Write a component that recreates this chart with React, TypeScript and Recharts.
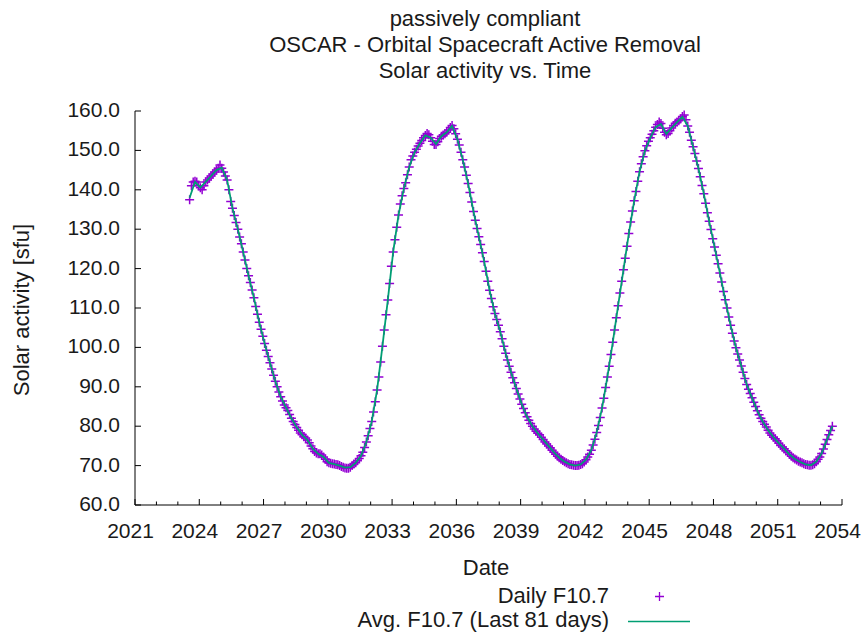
import React from 'react';
import { ComposedChart, Line, Scatter, XAxis, YAxis, Customized } from 'recharts';

// ---- data ----
const TITLE_LINES = ['passively compliant', 'OSCAR - Orbital Spacecraft Active Removal', 'Solar activity vs. Time'];
const X_LABEL = 'Date';
const Y_LABEL = 'Solar activity [sfu]';
const LEGEND_DAILY = 'Daily F10.7';
const LEGEND_AVG = 'Avg. F10.7 (Last 81 days)';

const X_DOMAIN = [2021, 2054];
const X_MAJOR_TICKS = [2021, 2024, 2027, 2030, 2033, 2036, 2039, 2042, 2045, 2048, 2051, 2054];
const X_ALL_TICKS = [2021, 2022, 2023, 2024, 2025, 2026, 2027, 2028, 2029, 2030, 2031, 2032, 2033, 2034, 2035, 2036, 2037, 2038, 2039, 2040, 2041, 2042, 2043, 2044, 2045, 2046, 2047, 2048, 2049, 2050, 2051, 2052, 2053, 2054];
const Y_DOMAIN = [60, 160];
const Y_TICKS = [60, 70, 80, 90, 100, 110, 120, 130, 140, 150, 160];

// daily F10.7 (sampled monthly, starting mid-2023)
const DAILY_START = 2023.55;
const DAILY_STEP = 1 / 12;
const DAILY_2023_2028 = [
  137.5, 141, 142, 142.2, 142, 141, 140.5, 140, 141, 142, 142.5, 143,
  143.5, 144, 144.5, 145, 145.5, 146.3, 145.5, 144.5, 143.5, 142.5, 140, 137,
  135.3, 133.5, 131.7, 130, 128, 126.3, 124.2, 122.2, 120, 118.2, 116.5, 114.6,
  112.6, 110.4, 108.4, 106.4, 104.6, 102.8, 101, 99.3, 97.7, 96.1, 94.5, 92.9,
  91.4, 90, 88.7, 87.5, 86.4, 85.4, 84.7, 84, 83, 82, 81.2, 80.4,
];
const DAILY_2028_2033 = [
  79.7, 79, 78.3, 77.8, 77.3, 77, 76.5, 75.8, 75, 74.3, 73.6, 73.2,
  73, 73, 72.7, 72.2, 71.6, 71, 70.7, 70.6, 70.5, 70.4, 70.3, 70.2,
  70, 69.8, 69.6, 69.4, 69.3, 69.3, 69.6, 70, 70.4, 70.7, 71.2, 71.8,
  72.5, 73.4, 74.6, 76, 77.6, 79.4, 81.2, 83.6, 86.2, 89.2, 92.5, 96.3,
  100.3, 104.4, 108.3, 112, 116.2, 120.6, 124.2, 127.3, 130.5, 133.6, 136.4, 138.5,
];
const DAILY_2033_2038 = [
  140.3, 141.8, 143.8, 145.8, 147.6, 148.6, 149.5, 150.3, 151.1, 151.8, 152.5, 153.2,
  153.8, 154.3, 154, 153.2, 152.3, 151.5, 151.5, 152.2, 153, 153.6, 153.9, 154.2,
  154.6, 155.2, 155.8, 156.3, 155.5, 154.2, 152.8, 151.4, 149.5, 147.6, 145.8, 143.7,
  141.6, 139.3, 136.9, 134.5, 132.3, 130.2, 128.1, 126.1, 124, 121.8, 119.3, 116.8,
  114.5, 112.4, 110.3, 108.6, 107.1, 105.6, 104, 102.2, 100.3, 98.5, 96.8, 95.2,
];
const DAILY_2038_2043 = [
  93.7, 92.3, 91, 89.6, 88.2, 86.9, 85.6, 84.5, 83.4, 82.4, 81.5, 80.7,
  80, 79.3, 78.7, 78.2, 77.8, 77.2, 76.6, 76, 75.5, 75, 74.5, 73.9,
  73.4, 72.9, 72.4, 72, 71.6, 71.3, 71, 70.7, 70.5, 70.3, 70.2, 70.1,
  70, 70, 70.1, 70.3, 70.5, 70.9, 71.5, 72.2, 72.9, 73.9, 75.2, 76.7,
  78.4, 80.2, 82.2, 84.6, 87.1, 89.8, 92.5, 95.2, 98.2, 101.3, 104.4, 107.5,
];
const DAILY_2043_2048 = [
  110.6, 113.8, 116.8, 119.7, 122.6, 125.7, 128.9, 131.8, 134.6, 137.2, 139.6, 142.2,
  144.6, 146.6, 148.4, 149.9, 151.2, 152.3, 153.2, 154.1, 155, 155.9, 156.6, 157.2,
  156.8, 155.6, 154.6, 154, 154.3, 155, 155.7, 156.3, 156.9, 157.2, 157.5, 158,
  158.6, 159, 157.8, 156.2, 154.6, 152.6, 150.9, 149.2, 147.3, 145.4, 143.3, 141.1,
  139, 136.6, 134.2, 132, 129.9, 127.6, 125.5, 123.4, 121.2, 118.9, 116.6, 114.2,
];
const DAILY_2048_2053 = [
  112.1, 110, 107.7, 105.6, 103.6, 101.6, 99.9, 98.3, 96.8, 95.3, 93.7, 92.1,
  90.6, 89.4, 88.3, 87.2, 86.1, 85, 83.9, 82.9, 82, 81.2, 80.5, 79.8,
  79, 78.3, 77.7, 77.2, 76.8, 76.3, 75.7, 75.1, 74.7, 74.3, 73.8, 73.3,
  72.8, 72.4, 72, 71.7, 71.4, 71.1, 70.9, 70.7, 70.5, 70.3, 70.2, 70.1,
  70.1, 70.2, 70.5, 71, 71.6, 72.2, 73.1, 74.2, 75.4, 76.6, 77.8, 78.9, 80,
];

// 81-day average (sampled quarterly)
const AVG_START = 2023.55;
const AVG_STEP = 0.25;
const AVG_2023_2033 = [
  138, 142, 140.6, 142, 143.5, 145, 145.6, 142.5, 135.3, 130, 124.2, 118.2, 112.6, 106.4, 101, 96.1, 91.4, 87.5, 84.7, 82,
  79.7, 77.8, 76.5, 74.3, 73, 72.2, 70.7, 70.4, 70, 69.5, 69.6, 70.7, 72.5, 76, 81.2, 89.2, 100.3, 112, 124.2, 133.6,
];
const AVG_2033_2043 = [
  140.3, 145.8, 149.5, 151.8, 153.8, 153.2, 151.6, 153.6, 154.6, 156.2, 152.8, 147.6, 141.6, 134.5, 128.1, 121.8, 114.5, 108.6, 104, 98.5,
  93.7, 89.6, 85.6, 82.4, 80, 78.2, 76.6, 75, 73.4, 72, 71, 70.3, 70, 70.3, 71.5, 73.9, 78.4, 84.6, 92.5, 101.3,
];
const AVG_2043_2053 = [
  110.6, 119.7, 128.9, 137.2, 144.6, 149.9, 153.2, 155.9, 156.7, 154.2, 155.7, 157.2, 158.5, 156.2, 150.9, 145.4, 139, 132, 125.5, 118.9,
  112.1, 105.6, 99.9, 95.3, 90.6, 87.2, 83.9, 81.2, 79, 77.2, 75.7, 74.3, 72.8, 71.7, 70.9, 70.3, 70.1, 71, 73.1, 76.6, 80,
];

const dailyValues = [...DAILY_2023_2028, ...DAILY_2028_2033, ...DAILY_2033_2038, ...DAILY_2038_2043, ...DAILY_2043_2048, ...DAILY_2048_2053];
const avgValues = [...AVG_2023_2033, ...AVG_2033_2043, ...AVG_2043_2053];
const dailyData = dailyValues.map((v, i) => ({ t: DAILY_START + i * DAILY_STEP, v }));
const avgData = avgValues.map((v, i) => ({ t: AVG_START + i * AVG_STEP, v }));

// ---- styles ----
const FONT = "'Liberation Sans', Arial, Helvetica, sans-serif";
const FS_TICK = 21;
const FS_TEXT = 22;
const TEXT = '#1a1a1a';
const PURPLE = '#9400d3';
const TEAL = '#009e73';
const W = 863;
const H = 633;
const MARGIN = { top: 111, right: 21, bottom: 68, left: 75 };

const BottomTick = (props: any) => {
  const { x, y, payload } = props;
  const major = X_MAJOR_TICKS.includes(payload.value);
  return (
    <g>
      <line x1={x} y1={y} x2={x} y2={y - (major ? 6 : 3.5)} stroke="#000" strokeWidth={1} />
      {major && (
        <text x={x - 4.5} y={y + 33} textAnchor="middle" fontSize={FS_TICK} fontFamily={FONT} fill={TEXT}>
          {payload.value}
        </text>
      )}
    </g>
  );
};

const TopTick = (props: any) => {
  const { x, y, payload } = props;
  const major = X_MAJOR_TICKS.includes(payload.value);
  return <line x1={x} y1={y} x2={x} y2={y + (major ? 6 : 3.5)} stroke="#000" strokeWidth={1} />;
};

const LeftTick = (props: any) => {
  const { x, y, payload } = props;
  return (
    <g>
      <line x1={x} y1={y} x2={x + 6} y2={y} stroke="#000" strokeWidth={1} />
      <text x={x - 15} y={y + 6} textAnchor="end" fontSize={FS_TICK} fontFamily={FONT} fill={TEXT}>
        {Number(payload.value).toFixed(1)}
      </text>
    </g>
  );
};

const RightTick = (props: any) => {
  const { x, y } = props;
  return <line x1={x} y1={y} x2={x - 6} y2={y} stroke="#000" strokeWidth={1} />;
};

const PlusDot = (props: any) => {
  const { cx, cy, index } = props;
  if (cx == null || cy == null) return null;
  return <path key={`p${index}`} d={`M${cx - 4.5},${cy}h9M${cx},${cy - 4.5}v9`} stroke={PURPLE} strokeWidth={1.5} fill="none" />;
};

const NoShape = () => <g />;

const Overlay = () => (
  <g fontFamily={FONT} fontSize={FS_TEXT} fill={TEXT}>
    {TITLE_LINES.map((s, i) => (
      <text key={s} x={485} y={26 + i * 26} textAnchor="middle">
        {s}
      </text>
    ))}
    <text x={486} y={575} textAnchor="middle">
      {X_LABEL}
    </text>
    <text transform="translate(29,310) rotate(-90)" textAnchor="middle">
      {Y_LABEL}
    </text>
    <text x={609} y={603} textAnchor="end">
      {LEGEND_DAILY}
    </text>
    <path d="M655,596.5h9M659.5,592v9" stroke={PURPLE} strokeWidth={1.3} />
    <text x={609} y={627} textAnchor="end">
      {LEGEND_AVG}
    </text>
    <line x1={628} y1={621.5} x2={690} y2={621.5} stroke={TEAL} strokeWidth={1.5} />
  </g>
);

export default function App() {
  return (
    <div style={{ position: 'absolute', left: 0, top: 0, width: W, height: H, background: '#fff' }}>
      <ComposedChart width={W} height={H} margin={MARGIN}>
        <XAxis
          xAxisId={0}
          dataKey="t"
          type="number"
          domain={X_DOMAIN}
          ticks={X_ALL_TICKS}
          interval={0}
          orientation="bottom"
          height={60}
          tickSize={0}
          tickMargin={0}
          tickLine={false}
          axisLine={{ stroke: '#000', strokeWidth: 1 }}
          tick={BottomTick}
        />
        <XAxis
          xAxisId="top"
          dataKey="t"
          type="number"
          domain={X_DOMAIN}
          ticks={X_ALL_TICKS}
          interval={0}
          orientation="top"
          height={0}
          tickSize={0}
          tickMargin={0}
          tickLine={false}
          axisLine={{ stroke: '#000', strokeWidth: 1 }}
          tick={TopTick}
        />
        <YAxis
          yAxisId={0}
          dataKey="v"
          type="number"
          domain={Y_DOMAIN}
          ticks={Y_TICKS}
          interval={0}
          orientation="left"
          width={60}
          tickSize={0}
          tickMargin={0}
          tickLine={false}
          axisLine={{ stroke: '#000', strokeWidth: 1 }}
          tick={LeftTick}
        />
        <YAxis
          yAxisId="right"
          dataKey="v"
          type="number"
          domain={Y_DOMAIN}
          ticks={Y_TICKS}
          interval={0}
          orientation="right"
          width={0}
          tickSize={0}
          tickMargin={0}
          tickLine={false}
          axisLine={{ stroke: '#000', strokeWidth: 1 }}
          tick={RightTick}
        />
        <Line
          name={LEGEND_DAILY}
          data={dailyData}
          dataKey="v"
          xAxisId={0}
          yAxisId={0}
          type="linear"
          stroke="none"
          dot={PlusDot}
          activeDot={false}
          isAnimationActive={false}
        />
        <Scatter
          name={LEGEND_AVG}
          data={avgData}
          dataKey="v"
          xAxisId={0}
          yAxisId={0}
          line={{ stroke: TEAL, strokeWidth: 1.8 }}
          lineType="joint"
          shape={NoShape}
          isAnimationActive={false}
        />
        <Customized component={<Overlay />} />
      </ComposedChart>
    </div>
  );
}
